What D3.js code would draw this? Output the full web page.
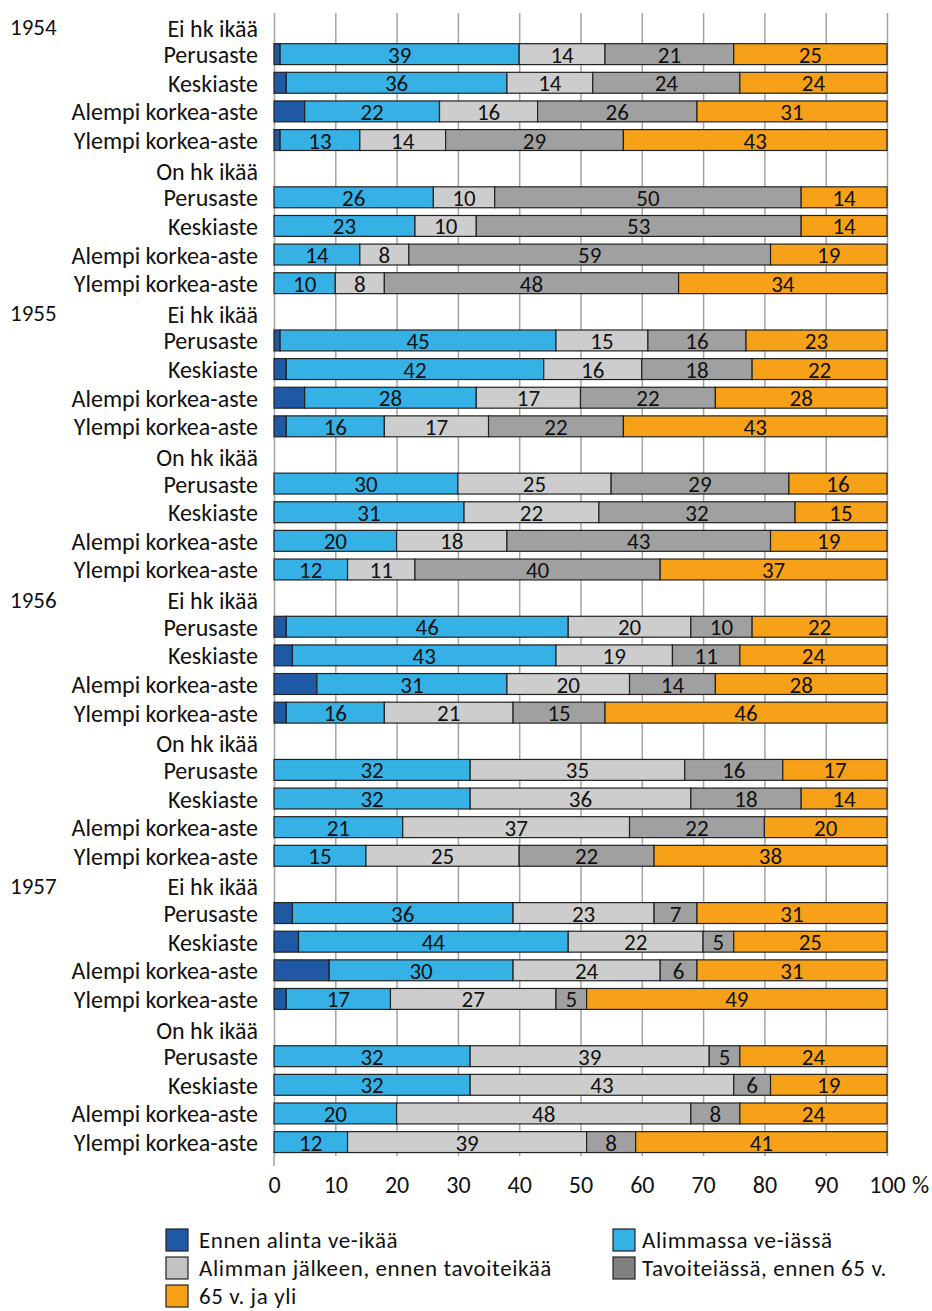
<!DOCTYPE html>
<html>
<head>
<meta charset="utf-8">
<script src="https://cdn.jsdelivr.net/npm/d3@7"></script>
<style>
  body { margin: 0; background: #fff; }
  text { font-family: Carlito, Lato, sans-serif; fill: #111; }
</style>
</head>
<body>
<div class="chartBox"></div>
<script>
var years = ['1954', '1955', '1956', '1957'];
var groups = ['Ei hk ikää', 'On hk ikää'];
var levels = ['Perusaste', 'Keskiaste', 'Alempi korkea-aste', 'Ylempi korkea-aste'];
var seriesNames = ['Ennen alinta ve-ikää', 'Alimmassa ve-iässä', 'Alimman jälkeen, ennen tavoiteikää', 'Tavoiteiässä, ennen 65 v.', '65 v. ja yli'];
var seriesColors = ['#1f58a5', '#35b1e6', '#cdcdcd', '#a0a0a0', '#f6a117'];
var legendColors = ['#1f58a5', '#35b1e6', '#c3c3c3', '#808080', '#f6a117'];
var xTicks = [0, 10, 20, 30, 40, 50, 60, 70, 80, 90, 100];

// order: year -> group -> level
var ennen     = [1, 2, 5, 1,   0, 0, 0, 0,   1, 2, 5, 2,   0, 0, 0, 0,   2, 3, 7, 2,   0, 0, 0, 0,   3, 4, 9, 2,   0, 0, 0, 0];
var alimmassa = [39, 36, 22, 13, 26, 23, 14, 10, 45, 42, 28, 16, 30, 31, 20, 12, 46, 43, 31, 16, 32, 32, 21, 15, 36, 44, 30, 17, 32, 32, 20, 12];
var alimman   = [14, 14, 16, 14, 10, 10, 8, 8,   15, 16, 17, 17, 25, 22, 18, 11, 20, 19, 20, 21, 35, 36, 37, 25, 23, 22, 24, 27, 39, 43, 48, 39];
var tavoite   = [21, 24, 26, 29, 50, 53, 59, 48, 16, 18, 22, 22, 29, 32, 43, 40, 10, 11, 14, 15, 16, 18, 22, 22, 7, 5, 6, 5,     5, 6, 8, 8];
var yli65     = [25, 24, 31, 43, 14, 14, 19, 34, 23, 22, 28, 43, 16, 15, 19, 37, 22, 24, 28, 46, 17, 14, 20, 38, 31, 25, 31, 49, 24, 19, 24, 41];
var seriesValues = [ennen, alimmassa, alimman, tavoite, yli65];

var rows = [];
var k = 0;
years.forEach(function(yr, yi) {
  groups.forEach(function(g, gi) {
    rows.push({id: yr + g, label: g, header: true, year: gi === 0 ? yr : null});
    levels.forEach(function(l) {
      rows.push({id: yr + g + l, label: l, header: false, idx: k});
      k++;
    });
  });
});

var w = 932, h = 1311;
var canvas = d3.select('.chartBox')
  .append('svg')
  .attr('width', w)
  .attr('height', h);

var x = d3.scaleLinear().domain([0, 100]).range([274, 887]);
var y = d3.scaleBand()
  .domain(rows.map(function(d) { return d.id; }))
  .range([11.2, 1156.4])
  .paddingInner(0.27)
  .paddingOuter(0.135);

var gridTop = 13, gridBottom = 1156;

canvas.append('g')
  .attr('transform', 'translate(0,' + gridBottom + ')')
  .call(d3.axisBottom(x).tickValues(xTicks).tickSizeInner(-(gridBottom - gridTop)).tickSizeOuter(0).tickFormat(''))
  .call(function(g) {
    g.select('.domain').remove();
    g.selectAll('line').attr('stroke', '#a3a3a3').attr('stroke-width', 1.5);
  });

canvas.append('line')
  .attr('x1', x(0)).attr('x2', x(0))
  .attr('y1', gridBottom).attr('y2', 1166)
  .attr('stroke', '#a3a3a3').attr('stroke-width', 1.5);

canvas.append('g')
  .attr('transform', 'translate(0,' + gridBottom + ')')
  .call(d3.axisBottom(x).tickValues(xTicks).tickSize(0).tickPadding(20))
  .call(function(g) {
    g.select('.domain').remove();
    g.selectAll('text').attr('font-size', 24).style('font-family', 'Carlito, Lato, sans-serif').attr('fill', '#111');
  });

canvas.append('text')
  .attr('x', 912)
  .attr('y', 1193)
  .attr('font-size', 24)
  .text('%');

var barRows = rows.filter(function(d) { return !d.header; });

seriesValues.forEach(function(vals, si) {
  canvas.append('g').selectAll('rect')
    .data(barRows)
    .enter()
    .append('rect')
    .attr('fill', seriesColors[si])
    .attr('stroke', '#222')
    .attr('stroke-width', 1.2)
    .attr('x', function(d) {
      var s = 0;
      for (var j = 0; j < si; j++) s += seriesValues[j][d.idx];
      return x(s);
    })
    .attr('width', function(d) { return x(vals[d.idx]) - x(0); })
    .attr('y', function(d) { return y(d.id); })
    .attr('height', y.bandwidth())
    .style('display', function(d) { return vals[d.idx] > 0 ? null : 'none'; });

  if (si > 0) {
    canvas.append('g').selectAll('text')
      .data(barRows)
      .enter()
      .append('text')
      .attr('text-anchor', 'middle')
      .attr('font-size', 23)
      .attr('x', function(d) {
        var s = 0;
        for (var j = 0; j < si; j++) s += seriesValues[j][d.idx];
        return x(s + vals[d.idx] / 2);
      })
      .attr('y', function(d) { return y(d.id) + y.bandwidth() / 2 + 8.5; })
      .text(function(d) { return vals[d.idx]; });
  }
});

canvas.append('g').selectAll('text')
  .data(rows)
  .enter()
  .append('text')
  .attr('text-anchor', 'end')
  .attr('font-size', 24)
  .attr('x', 258)
  .attr('y', function(d) { return y(d.id) + y.bandwidth() / 2 + (d.header ? 11 : 9); })
  .text(function(d) { return d.label; });

canvas.append('g').selectAll('text')
  .data(rows.filter(function(d) { return d.year; }))
  .enter()
  .append('text')
  .attr('font-size', 23)
  .attr('x', 10)
  .attr('y', function(d) { return y(d.id) + y.bandwidth() / 2 + 9.5; })
  .text(function(d) { return d.year; });

var legendPos = [[166, 1240], [613, 1240], [166, 1268], [613, 1268], [166, 1296]];
var legend = canvas.append('g').selectAll('g')
  .data(seriesNames)
  .enter()
  .append('g')
  .attr('transform', function(d, i) { return 'translate(' + legendPos[i][0] + ',' + legendPos[i][1] + ')'; });

legend.append('rect')
  .attr('x', 0).attr('y', -11)
  .attr('width', 22).attr('height', 22)
  .attr('fill', function(d, i) { return legendColors[i]; })
  .attr('stroke', '#222')
  .attr('stroke-width', 1.2);

legend.append('text')
  .attr('x', function(d, i) { return i % 2 === 0 ? 33 : 29; })
  .attr('y', 8)
  .attr('font-size', 23)
  .attr('letter-spacing', 0.6)
  .text(function(d) { return d; });
</script>
</body>
</html>
